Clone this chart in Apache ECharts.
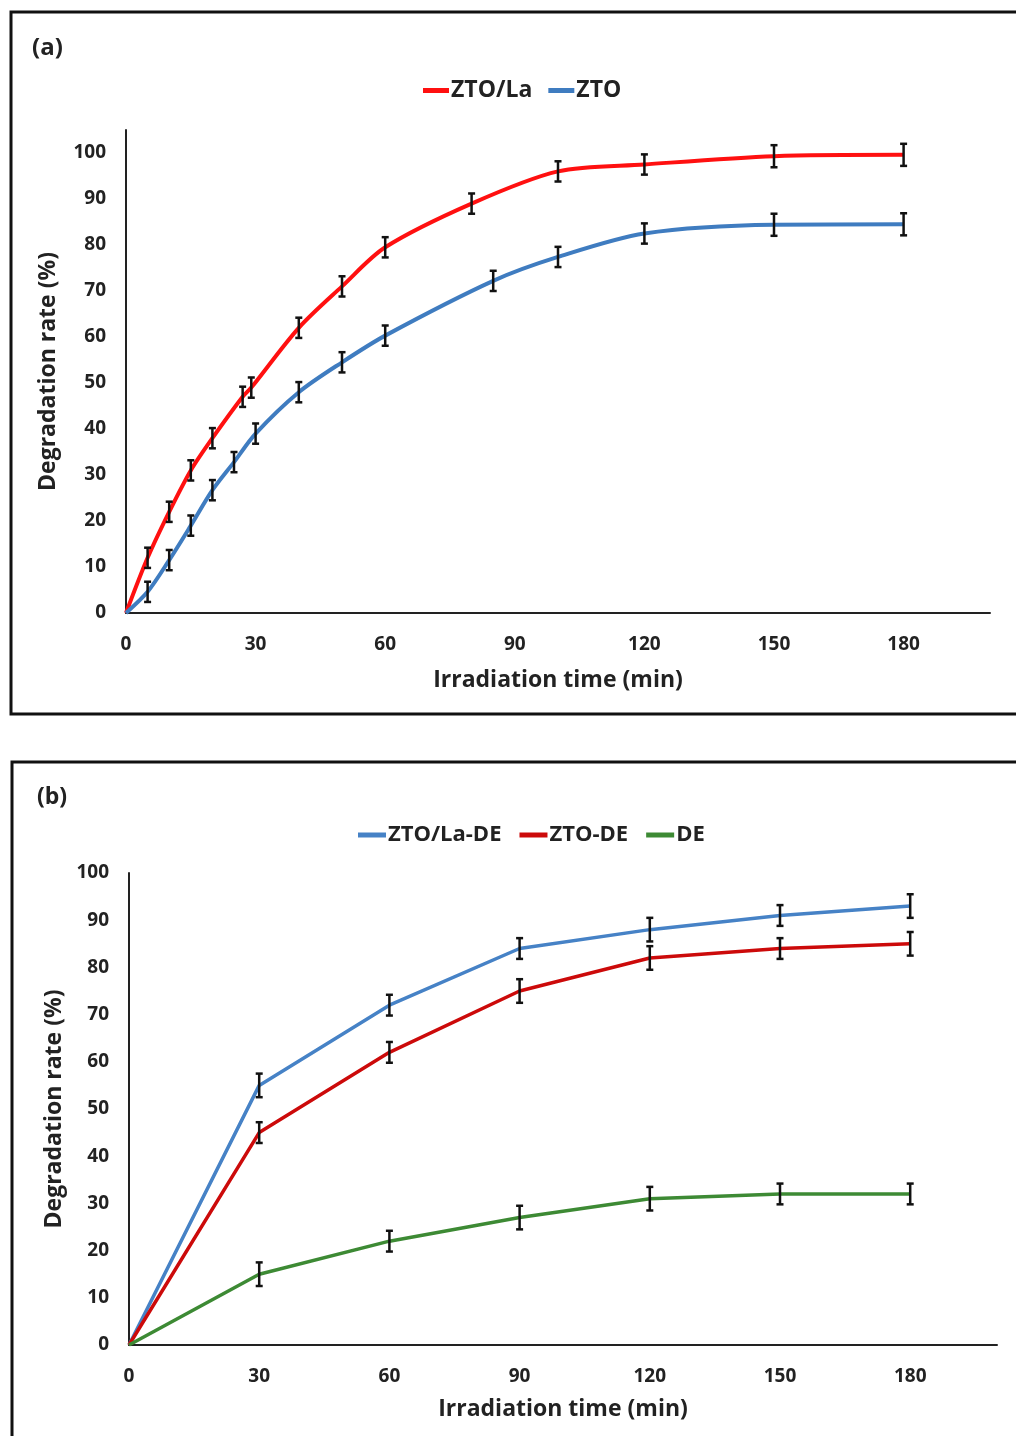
<!DOCTYPE html>
<html>
<head>
<meta charset="utf-8">
<script src="https://cdn.jsdelivr.net/npm/echarts@6/dist/echarts.min.js"></script>
<style>
  html, body { margin: 0; padding: 0; background: #fff; }
  #chart { width: 1016px; height: 1436px; }
</style>
</head>
<body>
<div id="chart"></div>
<script>
// panel (a)
var timeLa = [0, 5, 10, 15, 20, 27, 29, 40, 50, 60, 80, 100, 120, 150, 180];
var rateLa = [0, 12, 22, 31, 38, 47, 49, 62, 71, 79.5, 89, 96, 97.5, 99.3, 99.6];
var errLa = [0, 2.2, 2.2, 2.2, 2.2, 2.2, 2.2, 2.2, 2.2, 2.2, 2.2, 2.2, 2.2, 2.4, 2.4];
var timeZto = [0, 5, 10, 15, 20, 25, 30, 40, 50, 60, 85, 100, 120, 150, 180];
var rateZto = [0, 4.6, 11.5, 19, 26.7, 32.8, 39, 48, 54.5, 60.3, 72.2, 77.4, 82.5, 84.4, 84.5];
var errZto = [0, 2.2, 2.2, 2.2, 2.2, 2.2, 2.2, 2.2, 2.2, 2.2, 2.2, 2.2, 2.2, 2.4, 2.4];

// panel (b)
var timeB = [0, 30, 60, 90, 120, 150, 180];
var rateLaDE = [0, 55, 72, 84, 88, 91, 93];
var rateZtoDE = [0, 45, 62, 75, 82, 84, 85];
var rateDE = [0, 15, 22, 27, 31, 32, 32];
var errLaDE = [0, 2.5, 2.2, 2.2, 2.5, 2.2, 2.5];
var errZtoDE = [0, 2.2, 2.2, 2.5, 2.5, 2.2, 2.5];
var errDE = [0, 2.5, 2.2, 2.5, 2.5, 2.2, 2.2];

var yTicksA = [0, 10, 20, 30, 40, 50, 60, 70, 80, 90, 100];
var xTicks = [0, 30, 60, 90, 120, 150, 180];

var font = "'Liberation Sans Narrow', 'Open Sans', Roboto, sans-serif";

function pairs(xs, ys) {
  return xs.map(function (x, i) { return [x, ys[i]]; });
}
function triples(xs, ys, es) {
  return xs.map(function (x, i) { return [x, ys[i], es[i]]; });
}

function renderErr(params, api) {
  var x = api.value(0), y = api.value(1), e = api.value(2);
  if (!e) return;
  var hi = api.coord([x, y + e]);
  var lo = api.coord([x, y - e]);
  var w = 3.5;
  var st = { stroke: '#111', lineWidth: 2.5 };
  return {
    type: 'group',
    children: [
      { type: 'line', shape: { x1: hi[0], y1: hi[1], x2: lo[0], y2: lo[1] }, style: st },
      { type: 'line', shape: { x1: hi[0] - w, y1: hi[1], x2: hi[0] + w, y2: hi[1] }, style: st },
      { type: 'line', shape: { x1: lo[0] - w, y1: lo[1], x2: lo[0] + w, y2: lo[1] }, style: st }
    ]
  };
}

function xAxisCfg(idx, gap) {
  return {
    type: 'value', gridIndex: idx, min: 0, max: 200, interval: 30,
    name: 'Irradiation time (min)', nameLocation: 'middle', nameGap: gap,
    nameTextStyle: { fontSize: 23, fontWeight: 'bold', color: '#222', fontFamily: font },
    axisLine: { lineStyle: { color: '#222', width: 2 } },
    axisTick: { show: false },
    splitLine: { show: false },
    axisLabel: {
      fontSize: 19, fontWeight: 'bold', color: '#222', fontFamily: font, margin: 22,
      formatter: function (v) { return xTicks.indexOf(v) >= 0 ? String(v) : ''; }
    }
  };
}

function yAxisCfg(idx, max, gap) {
  return {
    type: 'value', gridIndex: idx, min: 0, max: max, interval: 10,
    name: 'Degradation rate (%)', nameLocation: 'middle', nameGap: gap,
    nameTextStyle: { fontSize: 23, fontWeight: 'bold', color: '#222', fontFamily: font },
    axisLine: { show: true, lineStyle: { color: '#222', width: 2 } },
    axisTick: { show: false },
    splitLine: { show: false },
    axisLabel: {
      fontSize: 19, fontWeight: 'bold', color: '#222', fontFamily: font, margin: 20,
      formatter: function (v) { return yTicksA.indexOf(v) >= 0 ? String(v) : ''; }
    }
  };
}

function lineSeries(name, data, color, xi, smooth, width) {
  return {
    name: name, type: 'line', xAxisIndex: xi, yAxisIndex: xi,
    data: data, smooth: smooth ? 0.3 : false, showSymbol: false,
    lineStyle: { color: color, width: width }, itemStyle: { color: color }, z: 2
  };
}

function errSeries(data, xi) {
  return {
    type: 'custom', xAxisIndex: xi, yAxisIndex: xi, data: data,
    renderItem: renderErr, z: 5, silent: true
  };
}

var redA = '#ff1010', blueA = '#3f7cc0';
var blueB = '#4682c6', redB = '#cc0a0a', greenB = '#3d8a34';

var chart = echarts.init(document.getElementById('chart'));
chart.setOption({
  backgroundColor: '#fff',
  animation: false,
  textStyle: { fontFamily: font },
  grid: [
    { left: 126, top: 130, width: 864, height: 483 },
    { left: 129, top: 873, width: 868, height: 472 }
  ],
  legend: [
    {
      data: ['ZTO/La', 'ZTO'], left: 418, top: 74, icon: 'rect',
      itemWidth: 26, itemHeight: 5, itemGap: 16,
      textStyle: { fontSize: 23, fontWeight: 'bold', color: '#222', fontFamily: font, padding: [0, 0, 0, -3] }
    },
    {
      data: ['ZTO/La-DE', 'ZTO-DE', 'DE'], left: 353, top: 819, icon: 'rect',
      itemWidth: 28, itemHeight: 5, itemGap: 18,
      textStyle: { fontSize: 22, fontWeight: 'bold', color: '#222', fontFamily: font, padding: [0, 0, 0, -3] }
    }
  ],
  xAxis: [xAxisCfg(0, 56), xAxisCfg(1, 53)],
  yAxis: [yAxisCfg(0, 105, 66), yAxisCfg(1, 100, 62)],
  graphic: [
    { type: 'rect', shape: { x: 11, y: 12, width: 1020, height: 702 },
      style: { fill: null, stroke: '#111', lineWidth: 3 } },
    { type: 'rect', shape: { x: 12, y: 762, width: 1020, height: 700 },
      style: { fill: null, stroke: '#111', lineWidth: 3 } },
    { type: 'text', left: 32, top: 36,
      style: { text: '(a)', fontSize: 24, fontWeight: 'bold', fill: '#222', fontFamily: font } },
    { type: 'text', left: 37, top: 786,
      style: { text: '(b)', fontSize: 23, fontWeight: 'bold', fill: '#222', fontFamily: font } }
  ],
  series: [
    lineSeries('ZTO/La', pairs(timeLa, rateLa), redA, 0, true, 4),
    lineSeries('ZTO', pairs(timeZto, rateZto), blueA, 0, true, 4),
    errSeries(triples(timeLa, rateLa, errLa), 0),
    errSeries(triples(timeZto, rateZto, errZto), 0),
    lineSeries('ZTO/La-DE', pairs(timeB, rateLaDE), blueB, 1, false, 3.5),
    lineSeries('ZTO-DE', pairs(timeB, rateZtoDE), redB, 1, false, 3.5),
    lineSeries('DE', pairs(timeB, rateDE), greenB, 1, false, 3.5),
    errSeries(triples(timeB, rateLaDE, errLaDE), 1),
    errSeries(triples(timeB, rateZtoDE, errZtoDE), 1),
    errSeries(triples(timeB, rateDE, errDE), 1)
  ]
});
</script>
</body>
</html>
